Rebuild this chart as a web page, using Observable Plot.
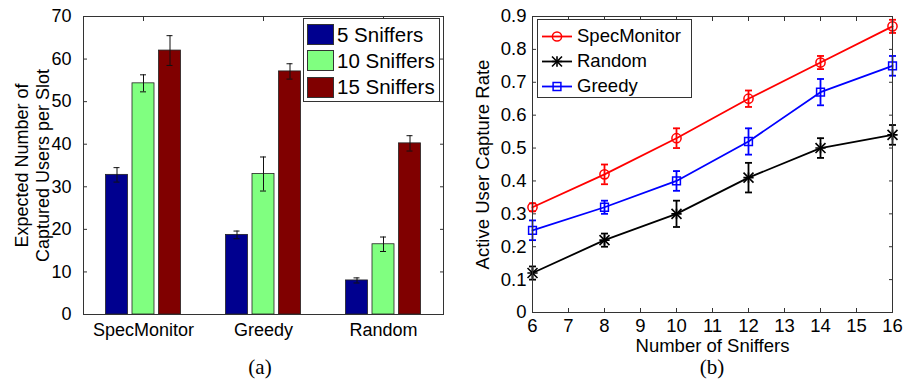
<!DOCTYPE html>
<html><head><meta charset="utf-8">
<script src="https://cdn.jsdelivr.net/npm/d3@7"></script>
<script src="https://cdn.jsdelivr.net/npm/@observablehq/plot@0.6"></script>
<style>
body{margin:0;background:#fff;font-family:"Liberation Sans",Arial,sans-serif;}
#wrap{position:relative;width:904px;height:381px;overflow:hidden;background:#fff;}
.panel{position:absolute;top:0;}
.legend{position:absolute;background:#fff;border:1px solid #333;box-sizing:border-box;}
.row{position:absolute;display:flex;align-items:center;white-space:nowrap;color:#000;}
.sw{display:inline-block;box-sizing:border-box;border:1px solid #333;}
.caption{position:absolute;font-family:"Liberation Serif","Times New Roman",serif;font-size:21px;line-height:1;transform:translateX(-50%);color:#000;}
</style></head><body><div id="wrap"></div>
<script>
// ---------- Data: panel (a) ----------
const groups = ["SpecMonitor", "Greedy", "Random"];
const barSeries = ["5 Sniffers", "10 Sniffers", "15 Sniffers"];
const captured5 = [32.8, 18.7, 8.0];
const captured10 = [54.3, 33.0, 16.5];
const captured15 = [62.0, 57.1, 40.2];
const capturedErr5 = [1.7, 0.9, 0.6];
const capturedErr10 = [2.0, 4.0, 1.7];
const capturedErr15 = [3.5, 1.8, 1.8];
const yTicksA = [0, 10, 20, 30, 40, 50, 60, 70];
const yLabelA = "Expected Number of\nCaptured Users per Slot";

// ---------- Data: panel (b) ----------
const snifferCounts = [6, 8, 10, 12, 14, 16];
const lineSeries = ["SpecMonitor", "Random", "Greedy"];
const rateSpecMonitor = [0.32, 0.42, 0.53, 0.65, 0.76, 0.87];
const errSpecMonitor = [0.012, 0.03, 0.03, 0.025, 0.02, 0.02];
const rateRandom = [0.12, 0.22, 0.30, 0.41, 0.50, 0.54];
const errRandom = [0.02, 0.02, 0.04, 0.045, 0.03, 0.03];
const rateGreedy = [0.25, 0.32, 0.40, 0.52, 0.67, 0.75];
const errGreedy = [0.03, 0.02, 0.03, 0.04, 0.04, 0.03];
const xTicksB = [6, 7, 8, 9, 10, 11, 12, 13, 14, 15, 16];
const yTicksB = [0, 0.1, 0.2, 0.3, 0.4, 0.5, 0.6, 0.7, 0.8, 0.9];
const xLabelB = "Number of Sniffers";
const yLabelB = "Active User Capture Rate";
const captions = ["(a)", "(b)"];

// ---------- Styles ----------
const barColors = ["#00008f", "#80ff80", "#800000"];
const barDx = [-26.5, 0, 26.5];
const lineColors = ["#ff0000", "#000000", "#0000ff"];
const FONT = "Liberation Sans, Arial, sans-serif";
const capSymbol = {draw(ctx, size) { const r = Math.sqrt(size / Math.PI); ctx.moveTo(-r, 0); ctx.lineTo(r, 0); }};

const wrap = document.getElementById("wrap");

// ---------- Panel (a) ----------
const capturedVals = [captured5, captured10, captured15];
const capturedErrs = [capturedErr5, capturedErr10, capturedErr15];
const barRows = [];
barSeries.forEach((s, j) => groups.forEach((g, i) => barRows.push({group: g, series: s, value: capturedVals[j][i], err: capturedErrs[j][i]})));

const barMarks = barSeries.flatMap((s, j) => {
  const rows = barRows.filter(d => d.series === s);
  return [
    Plot.barY(rows, {x: "group", y: "value", fill: barColors[j], stroke: "#222", strokeWidth: 0.8, dx: barDx[j], insetLeft: 49, insetRight: 49}),
    Plot.ruleX(rows, {x: "group", y1: d => d.value - d.err, y2: d => d.value + d.err, stroke: "#111", strokeWidth: 1, dx: barDx[j]}),
    Plot.tickY(rows, {x: "group", y: d => d.value + d.err, stroke: "#111", strokeWidth: 1, dx: barDx[j], insetLeft: 57, insetRight: 57}),
    Plot.tickY(rows, {x: "group", y: d => d.value - d.err, stroke: "#111", strokeWidth: 1, dx: barDx[j], insetLeft: 57, insetRight: 57})
  ];
});

const chartA = Plot.plot({
  width: 452, height: 350,
  marginLeft: 83, marginRight: 9, marginTop: 16, marginBottom: 36,
  style: {fontFamily: FONT, fontSize: "18px", color: "#000", background: "transparent"},
  x: {domain: groups, padding: 0, label: null},
  y: {domain: [0, 70], label: null},
  marks: [
    Plot.axisX({anchor: "bottom", tickSize: -4, tickPadding: 13, label: null, stroke: "#333"}),
    Plot.axisX({anchor: "top", tickSize: -4, tickFormat: () => "", label: null, stroke: "#333"}),
    Plot.axisY(yTicksA, {anchor: "left", tickSize: -4, tickPadding: 16, label: null, stroke: "#333"}),
    Plot.axisY(yTicksA, {anchor: "right", tickSize: -4, tickFormat: () => "", label: null, stroke: "#333"}),
    ...barMarks,
    Plot.frame({stroke: "#333", strokeWidth: 1}),
    Plot.text([yLabelA], {text: d => d, frameAnchor: "left", textAnchor: "middle", lineAnchor: "middle", rotate: -90, dx: -52, fontSize: 18, lineHeight: 1.17, fill: "#000"})
  ]
});
chartA.classList.add("panel");
chartA.style.left = "0px";
wrap.appendChild(chartA);

// ---------- Panel (b) ----------
const rates = [rateSpecMonitor, rateRandom, rateGreedy];
const rateErrs = [errSpecMonitor, errRandom, errGreedy];
const lineRows = [];
lineSeries.forEach((s, j) => snifferCounts.forEach((n, i) => lineRows.push({series: s, n, value: rates[j][i], err: rateErrs[j][i]})));

const markerMarks = (rows, j) => {
  const c = lineColors[j];
  if (lineSeries[j] === "SpecMonitor") return [Plot.dot(rows, {x: "n", y: "value", symbol: "circle", r: 4.6, fill: "none", stroke: c, strokeWidth: 1.5})];
  if (lineSeries[j] === "Greedy") return [Plot.dot(rows, {x: "n", y: "value", symbol: "square", r: 4.4, fill: "none", stroke: c, strokeWidth: 1.5})];
  return [
    Plot.dot(rows, {x: "n", y: "value", symbol: "plus", r: 3.4, fill: "none", stroke: c, strokeWidth: 1.6}),
    Plot.dot(rows, {x: "n", y: "value", symbol: "times", r: 4.6, fill: "none", stroke: c, strokeWidth: 1.6})
  ];
};

const lineMarks = lineSeries.flatMap((s, j) => {
  const rows = lineRows.filter(d => d.series === s);
  const c = lineColors[j];
  return [
    Plot.line(rows, {x: "n", y: "value", stroke: c, strokeWidth: 1.8}),
    Plot.ruleX(rows, {x: "n", y1: d => d.value - d.err, y2: d => d.value + d.err, stroke: c, strokeWidth: 1.8}),
    Plot.dot(rows, {x: "n", y: d => d.value + d.err, symbol: capSymbol, r: 3.5, fill: "none", stroke: c, strokeWidth: 1.8}),
    Plot.dot(rows, {x: "n", y: d => d.value - d.err, symbol: capSymbol, r: 3.5, fill: "none", stroke: c, strokeWidth: 1.8}),
    ...markerMarks(rows, j)
  ];
});

const fmtB = d3.format("~g");
const chartB = Plot.plot({
  width: 454, height: 360,
  marginLeft: 82, marginRight: 12, marginTop: 16, marginBottom: 48,
  style: {fontFamily: FONT, fontSize: "18.5px", color: "#000", background: "transparent"},
  x: {domain: [6, 16], label: null},
  y: {domain: [0, 0.9], label: null},
  marks: [
    Plot.axisX(xTicksB, {anchor: "bottom", tickSize: -4, tickPadding: 10, label: null, stroke: "#333"}),
    Plot.axisX(xTicksB, {anchor: "top", tickSize: -4, tickFormat: () => "", label: null, stroke: "#333"}),
    Plot.axisY(yTicksB, {anchor: "left", tickSize: -4, tickPadding: 10, tickFormat: fmtB, label: null, stroke: "#333"}),
    Plot.axisY(yTicksB, {anchor: "right", tickSize: -4, tickFormat: () => "", label: null, stroke: "#333"}),
    ...lineMarks,
    Plot.frame({stroke: "#333", strokeWidth: 1}),
    Plot.text([yLabelB], {text: d => d, frameAnchor: "left", textAnchor: "middle", lineAnchor: "middle", rotate: -90, dx: -49, fontSize: 18.5, fill: "#000"}),
    Plot.text([xLabelB], {text: d => d, frameAnchor: "bottom", textAnchor: "middle", lineAnchor: "middle", dy: 34, fontSize: 18.5, fill: "#000"})
  ]
});
chartB.classList.add("panel");
chartB.style.left = "450px";
wrap.appendChild(chartB);

// ---------- Legend (a) ----------
const legA = document.createElement("div");
legA.className = "legend";
Object.assign(legA.style, {left: "303px", top: "18px", width: "137px", height: "84px"});
barSeries.forEach((s, j) => {
  const row = document.createElement("div");
  row.className = "row";
  Object.assign(row.style, {left: "3px", top: (5 + j * 26.3) + "px", height: "21px", fontSize: "20.5px"});
  const sw = document.createElement("span");
  sw.className = "sw";
  Object.assign(sw.style, {width: "27px", height: "21px", background: barColors[j], marginRight: "3px"});
  row.appendChild(sw);
  row.appendChild(document.createTextNode(s));
  legA.appendChild(row);
});
wrap.appendChild(legA);

// ---------- Legend (b) ----------
const legB = document.createElement("div");
legB.className = "legend";
Object.assign(legB.style, {left: "537px", top: "19px", width: "155px", height: "79px"});
const symPath = (type, r) => d3.symbol().type(type).size(Math.PI * r * r)();
lineSeries.forEach((s, j) => {
  const row = document.createElement("div");
  row.className = "row";
  Object.assign(row.style, {left: "4px", top: (5.5 + j * 25) + "px", height: "21px", fontSize: "18.5px"});
  const c = lineColors[j];
  let marker;
  if (s === "SpecMonitor") marker = `<path d="${symPath(d3.symbolCircle, 4.6)}" fill="none" stroke="${c}" stroke-width="1.5"/>`;
  else if (s === "Greedy") marker = `<path d="${symPath(d3.symbolSquare, 4.4)}" fill="none" stroke="${c}" stroke-width="1.5"/>`;
  else marker = `<path d="${symPath(d3.symbolPlus, 3.4)}" fill="none" stroke="${c}" stroke-width="1.6"/><path d="${symPath(d3.symbolTimes, 4.6)}" fill="none" stroke="${c}" stroke-width="1.6"/>`;
  const svg = `<svg width="30" height="21" style="margin-right:5px;overflow:visible"><line x1="0" x2="30" y1="10.5" y2="10.5" stroke="${c}" stroke-width="1.8"/><g transform="translate(15,10.5)">${marker}</g></svg>`;
  row.innerHTML = svg + `<span>${s}</span>`;
  legB.appendChild(row);
});
wrap.appendChild(legB);

// ---------- Captions ----------
[[260, captions[0]], [712, captions[1]]].forEach(([x, t]) => {
  const c = document.createElement("div");
  c.className = "caption";
  c.style.left = x + "px";
  c.style.top = "357px";
  c.textContent = t;
  wrap.appendChild(c);
});
</script></body></html>
